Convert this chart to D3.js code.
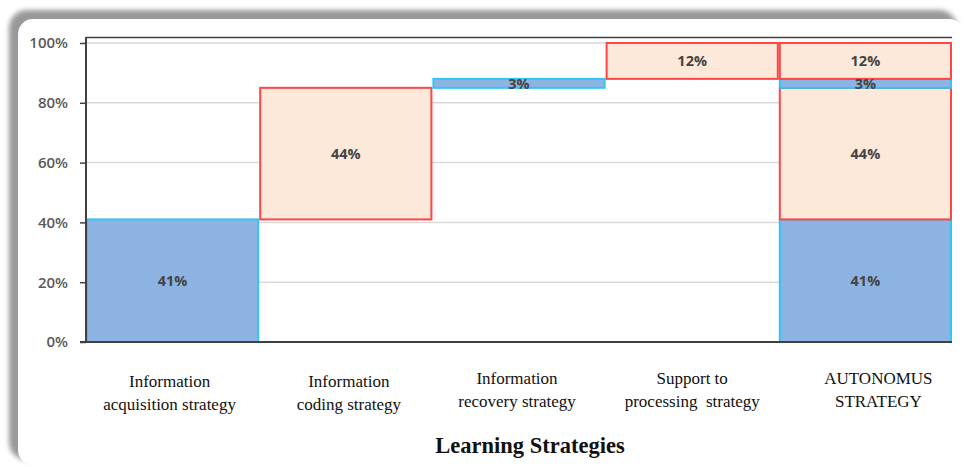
<!DOCTYPE html>
<style>
body { margin: 0; background: #fff; }
.ytick text { font: 600 15px "Open Sans", sans-serif; fill: #5a5a5a; }
.cat { font: 17px "Liberation Serif", serif; fill: #111; }
.val { font: 700 14.5px "Open Sans", sans-serif; fill: #444; }
</style>
<svg width="966" height="467"></svg>
<script src="https://cdn.jsdelivr.net/npm/d3@7"></script>
<script>
// waterfall pieces
var categories = ["Information acquisition strategy", "Information coding strategy",
                  "Information recovery strategy", "Support to processing strategy", "AUTONOMUS STRATEGY"];
var catLines = [["Information", "acquisition strategy"], ["Information", "coding strategy"],
                ["Information", "recovery strategy"], ["Support to", "processing  strategy"],
                ["AUTONOMUS", "STRATEGY"]];
var steps = [0.41, 0.44, 0.03, 0.12];
var stepKind = ["blue", "peach", "blue", "peach"];
var yTicks = [0, 0.2, 0.4, 0.6, 0.8, 1];

var svg = d3.select("svg");

// card background, shadow mostly on the left and top
var defs = svg.append("defs");
defs.append("filter").attr("id", "blur")
    .append("feGaussianBlur").attr("stdDeviation", 2.5);
svg.append("rect").attr("x", 9).attr("y", 10).attr("width", 948).attr("height", 450)
    .attr("rx", 18).attr("fill", "#999").attr("filter", "url(#blur)");
svg.append("rect").attr("x", 18).attr("y", 19).attr("width", 946).attr("height", 446)
    .attr("rx", 15).attr("fill", "#fff");

var pLeft = 86, pRight = 952, pTop = 37, pBottom = 342;

var x = d3.scaleBand().domain(categories).range([pLeft, pRight]).padding(0);
var y = d3.scaleLinear().domain([0, 1.02]).range([pBottom, pTop]);

// build segments: running total for first four, stacked for the last
var segs = [];
var run = 0;
steps.forEach(function(v, i) {
  segs.push({cat: categories[i], y0: run, y1: run + v, kind: stepKind[i], v: v});
  run += v;
});
var stack = 0;
steps.forEach(function(v, i) {
  segs.push({cat: categories[4], y0: stack, y1: stack + v, kind: stepKind[i], v: v});
  stack += v;
});

// gridlines
svg.append("g").selectAll("line").data(yTicks.slice(1)).enter().append("line")
    .attr("x1", pLeft).attr("x2", pRight)
    .attr("y1", function(d) { return y(d); }).attr("y2", function(d) { return y(d); })
    .attr("stroke", "#d9d9d9").attr("stroke-width", 1.5);

// bars
svg.append("g").selectAll("rect").data(segs).enter().append("rect")
    .attr("x", function(d) { return x(d.cat) + 1; })
    .attr("y", function(d) { return y(d.y1); })
    .attr("width", x.bandwidth() - 2)
    .attr("height", function(d) { return y(d.y0) - y(d.y1); })
    .attr("fill", function(d) { return d.kind == "blue" ? "#8db3e2" : "#fde9d9"; })
    .attr("stroke", function(d) { return d.kind == "blue" ? "#33c4f4" : "#ff4545"; })
    .attr("stroke-width", 2);

// value labels
svg.append("g").selectAll("text").data(segs).enter().append("text")
    .attr("class", "val")
    .attr("x", function(d) { return x(d.cat) + x.bandwidth() / 2; })
    .attr("y", function(d) { return y((d.y0 + d.y1) / 2) + (d.v < 0.05 ? 1 : 0); })
    .attr("dy", "0.35em")
    .attr("text-anchor", "middle")
    .text(function(d) { return Math.round(d.v * 100) + "%"; });

// plot frame top
svg.append("line").attr("x1", pLeft).attr("x2", pRight).attr("y1", pTop + 0.5).attr("y2", pTop + 0.5)
    .attr("stroke", "#404040").attr("stroke-width", 1.5);

// y axis
var yAxis = svg.append("g").attr("class", "ytick")
    .attr("transform", "translate(" + pLeft + ",0)")
    .call(d3.axisLeft(y).tickValues(yTicks).tickFormat(d3.format(".0%")).tickSize(6).tickPadding(12));
yAxis.select(".domain").attr("stroke", "#404040").attr("stroke-width", 2)
    .attr("d", "M0," + pTop + "V" + pBottom);
yAxis.selectAll(".tick line").attr("stroke", "#404040").attr("stroke-width", 1.5);

// x baseline
svg.append("line").attr("x1", pLeft - 6).attr("x2", pRight).attr("y1", pBottom).attr("y2", pBottom)
    .attr("stroke", "#404040").attr("stroke-width", 2);

// category labels
var labelY = [383, 383, 380, 380, 380];
var labelDx = [-3, 3, -2, 0, 13];
var cl = svg.append("g").selectAll("text").data(categories).enter().append("text")
    .attr("class", "cat")
    .attr("text-anchor", "middle")
    .attr("x", function(d, i) { return x(d) + x.bandwidth() / 2 + labelDx[i]; })
    .attr("y", function(d, i) { return labelY[i] + 4; });
cl.selectAll("tspan").data(function(d, i) { return catLines[i]; }).enter().append("tspan")
    .attr("x", function() { return d3.select(this.parentNode).attr("x"); })
    .attr("dy", function(d, j) { return j == 0 ? 0 : 23; })
    .attr("xml:space", "preserve")
    .text(function(d) { return d; });

// axis title
svg.append("text").attr("x", 530).attr("y", 453).attr("text-anchor", "middle")
    .style("font", "700 22.5px 'Liberation Serif', serif").attr("fill", "#111")
    .text("Learning Strategies");
</script>
